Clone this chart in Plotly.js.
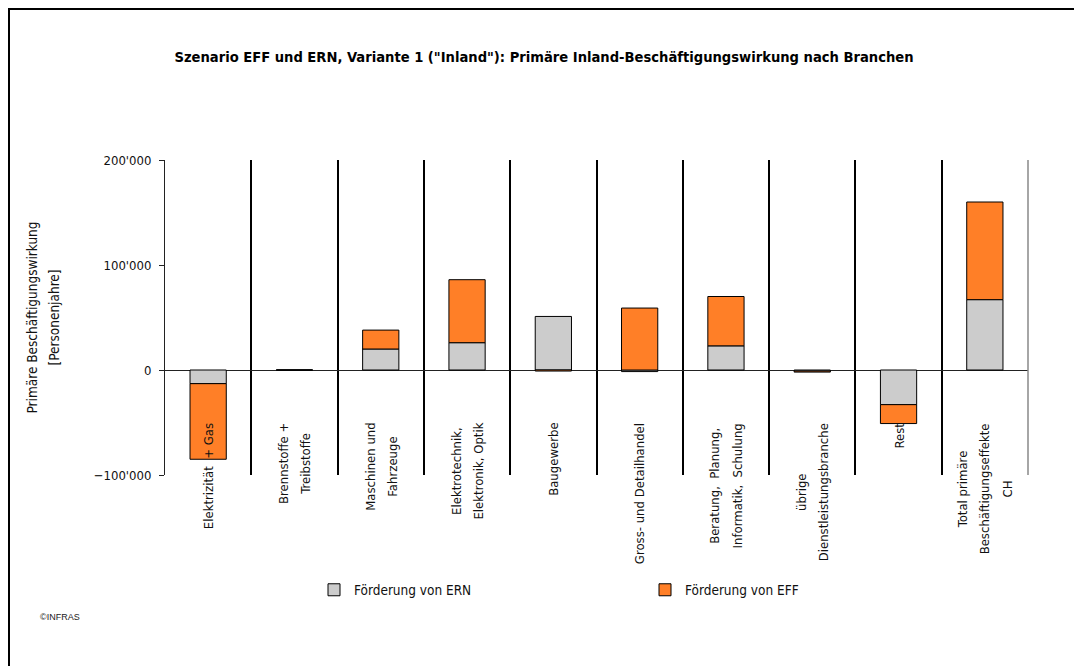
<!DOCTYPE html>
<html>
<head>
<meta charset="utf-8">
<script src="https://cdn.plot.ly/plotly-3.0.1.min.js"></script>
<style>html,body{margin:0;padding:0;background:#fff;}#chart{width:1074px;height:666px;}</style>
</head>
<body>
<div id="chart"></div>
<script>
// ---- data ----
const categories = [
  "Elektrizität + Gas",
  "Brennstoffe + Treibstoffe",
  "Maschinen und Fahrzeuge",
  "Elektrotechnik, Elektronik, Optik",
  "Baugewerbe",
  "Gross- und Detailhandel",
  "Beratung, Planung, Informatik, Schulung",
  "übrige Dienstleistungsbranche",
  "Rest",
  "Total primäre Beschäftigungseffekte CH"
];
const categoryLabelLines = [
  ["Elektrizität  + Gas"],
  ["Brennstoffe +", "Treibstoffe"],
  ["Maschinen und", "Fahrzeuge"],
  ["Elektrotechnik,", "Elektronik, Optik"],
  ["Baugewerbe"],
  ["Gross- und Detailhandel"],
  ["Beratung,  Planung,", "Informatik,  Schulung"],
  ["übrige", "Dienstleistungsbranche"],
  ["Rest"],
  ["Total primäre", "Beschäftigungseffekte", "CH"]
];
const seriesNames = ["Förderung von ERN", "Förderung von EFF"];
const valuesERN = [-13000, 0, 20000, 26000, 51000, -1500, 23000, -1000, -33000, 67000];
const valuesEFF = [-72000, 0, 18000, 60000, -1000, 59000, 47000, -1000, -18000, 93000];
const yTickValues = [-100000, 0, 100000, 200000];
const titleText = 'Szenario EFF und ERN, Variante 1 ("Inland"): Primäre Inland-Beschäftigungswirkung nach Branchen';
const yTitleLines = ["Primäre Beschäftigungswirkung", "[Personenjahre]"];
const sourceText = "©INFRAS";

// ---- layout constants ----
const W = 1074, H = 666;
const M = {l: 165, r: 46, t: 160, b: 191};
const PW = W - M.l - M.r, PH = H - M.t - M.b;
const px2x = p => (p - M.l) / PW;
const py2y = p => (H - M.b - p) / PH;
const FONT = "DejaVu Sans Condensed, DejaVu Sans, sans-serif";

const span = (s, fs) => '<span style="font-size:' + fs + 'px">' + s + '</span>';

const traces = [
  {type: "bar", name: seriesNames[0], x: categories, y: valuesERN,
   marker: {color: "#CCCCCC", line: {color: "#000000", width: 1}}},
  {type: "bar", name: seriesNames[1], x: categories, y: valuesEFF,
   marker: {color: "#FF7F27", line: {color: "#000000", width: 1}}}
];

const annotations = categories.map((c, i) => ({
  x: c, xref: "x", y: py2y(421), yref: "paper",
  xanchor: "center", yanchor: "top", textangle: -90, align: "center",
  showarrow: false,
  text: categoryLabelLines[i].map(s => span(s, 13)).join("<br>"),
  font: {family: FONT, size: 17, color: "#111"}
}));
annotations.push({
  x: px2x(38), xref: "paper", y: py2y(617), yref: "paper",
  xanchor: "left", yanchor: "middle", showarrow: false,
  text: sourceText, font: {family: "Liberation Sans, Arial, sans-serif", size: 9, color: "#222"}
});

const layout = {
  width: W, height: H,
  margin: M,
  paper_bgcolor: "#fff", plot_bgcolor: "#fff",
  separators: ".'",
  barmode: "relative",
  bargap: 0.58,
  showlegend: true,
  title: {
    text: "<b>" + titleText + "</b>",
    x: 544 / W, xanchor: "center", y: 1 - 57 / H, yanchor: "middle",
    font: {family: FONT, size: 14.6, color: "#000"}
  },
  xaxis: {
    type: "category", categoryorder: "array", categoryarray: categories,
    tickson: "boundaries", showgrid: true, gridcolor: "#000", gridwidth: 2,
    showticklabels: false, ticks: "", showline: false, zeroline: false,
    fixedrange: true
  },
  yaxis: {
    range: [-100000, 200000], tickvals: yTickValues, tickformat: ",d",
    showgrid: false, zeroline: true, zerolinecolor: "#222", zerolinewidth: 1,
    showline: true, linecolor: "#222", linewidth: 1,
    ticks: "outside", ticklen: 5, tickcolor: "#222", ticklabelstandoff: 5,
    tickfont: {family: FONT, size: 13, color: "#111"},
    title: {text: yTitleLines.map(s => span(s, 13.5)).join("<br>"), standoff: 29,
            font: {family: FONT, size: 17, color: "#111"}},
    automargin: false, fixedrange: true
  },
  legend: {
    orientation: "h", x: px2x(314), xanchor: "left", y: py2y(590), yanchor: "middle",
    entrywidth: 286, entrywidthmode: "pixels", traceorder: "normal",
    font: {family: FONT, size: 13.5, color: "#111"},
    bgcolor: "rgba(0,0,0,0)", itemclick: false, itemdoubleclick: false
  },
  annotations: annotations,
  shapes: [
    {type: "line", xref: "paper", yref: "paper", x0: 1, x1: 1, y0: 0, y1: 1,
     line: {color: "#888", width: 1.5}},
    {type: "line", xref: "paper", yref: "paper", x0: px2x(9), x1: px2x(9), y0: py2y(9), y1: py2y(H + 5),
     line: {color: "#000", width: 2}},
    {type: "line", xref: "paper", yref: "paper", x0: px2x(8), x1: px2x(W + 5), y0: py2y(9), y1: py2y(9),
     line: {color: "#000", width: 2}}
  ]
};

Plotly.newPlot("chart", traces, layout, {displayModeBar: false, staticPlot: true});
</script>
</body>
</html>
